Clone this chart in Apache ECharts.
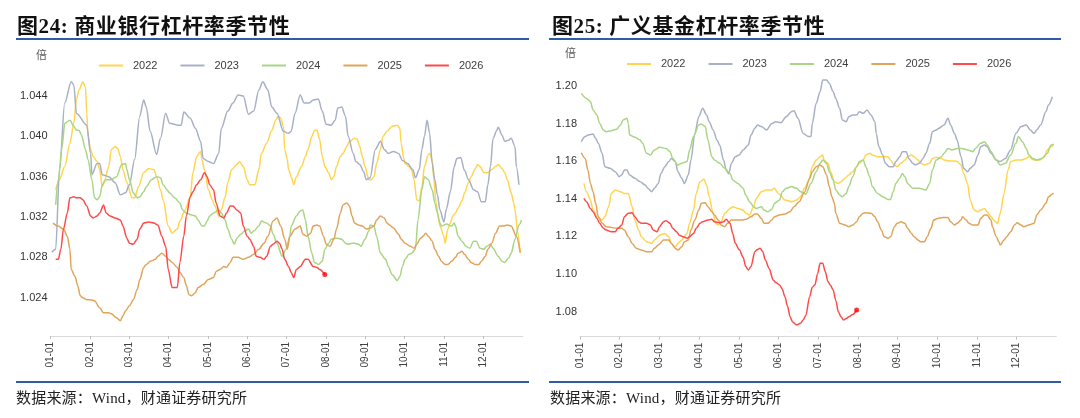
<!DOCTYPE html>
<html>
<head>
<meta charset="utf-8">
<title>杠杆率季节性</title>
<script src="https://cdn.jsdelivr.net/npm/echarts@6/dist/echarts.min.js"></script>
<style>
  body { margin: 0; background: #fff; }
  #wrap { position: relative; width: 1080px; height: 418px; overflow: hidden; }
  #chart { position: absolute; left: 0; top: 0; width: 1080px; height: 418px; }
  .title { position: absolute; top: 15.5px; font: bold 21px 'Liberation Serif', 'Noto Sans CJK SC'; line-height: 21px; letter-spacing: 0.6px; color: #111; white-space: nowrap; }
  .source { position: absolute; top: 390px; font: 15px 'Liberation Serif', 'Noto Sans CJK SC'; line-height: 16px; letter-spacing: 0.2px; color: #222; white-space: nowrap; }
  .rule { position: absolute; background: #2f5ca5; }
</style>
</head>
<body>
<div id="wrap">
  <div id="chart"></div>
  <div class="title" style="left:17px">图24: 商业银行杠杆率季节性</div>
  <div class="title" style="left:552px">图25: 广义基金杠杆率季节性</div>
  <div class="rule" style="left:16px;top:38px;width:513px;height:1.5px"></div>
  <div class="rule" style="left:549px;top:38px;width:512px;height:1.5px"></div>
  <div class="rule" style="left:16px;top:380.5px;width:513px;height:2px"></div>
  <div class="rule" style="left:549px;top:380.5px;width:512px;height:2px"></div>
  <div class="source" style="left:16px">数据来源：Wind，财通证券研究所</div>
  <div class="source" style="left:550px">数据来源：Wind，财通证券研究所</div>
</div>
<script>
// 横轴：一年按天计（0~365），月初刻度
var monthLabels = ['01-01', '02-01', '03-01', '04-01', '05-01', '06-01', '07-01', '08-01', '09-01', '10-01', '11-01', '12-01'];
var years = ['2022', '2023', '2024', '2025', '2026'];
var bankTicks = [1.024, 1.028, 1.032, 1.036, 1.040, 1.044];
var fundTicks = [1.08, 1.10, 1.12, 1.14, 1.16, 1.18, 1.20];

// 图24 商业银行杠杆率（倍），[天, 值]
var bank2022 = [[4,1.0347],[7,1.0357],[11,1.037],[15,1.0393],[18,1.0413],[20,1.0436],[22,1.0446],[25,1.0454],[27,1.0449],[28,1.0423],[29,1.04],[31,1.0387],[33,1.038],[36,1.0375],[38,1.0367],[40,1.035],[42,1.0357],[45,1.037],[47,1.0387],[50,1.039],[52,1.0388],[54,1.038],[56,1.0367],[59,1.0354],[63,1.0339],[65,1.0339],[68,1.035],[72,1.0364],[76,1.0368],[80,1.0367],[82,1.036],[85,1.0347],[87,1.0337],[91,1.0311],[94,1.0304],[98,1.0308],[100,1.0316],[104,1.0327],[108,1.034],[110,1.0364],[113,1.038],[116,1.0385],[117,1.0377],[119,1.0367],[122,1.0347],[125,1.0337],[127,1.0331],[130,1.0321],[132,1.0327],[135,1.034],[137,1.0354],[140,1.0367],[144,1.0372],[146,1.0375],[149,1.037],[152,1.0357],[154,1.0352],[158,1.0352],[161,1.0367],[163,1.0383],[167,1.0393],[171,1.0406],[174,1.0416],[176,1.042],[178,1.0418],[180,1.041],[181,1.0387],[183,1.0377],[184,1.0367],[186,1.036],[188,1.0352],[190,1.036],[194,1.037],[197,1.038],[199,1.0387],[202,1.04],[204,1.0406],[206,1.0406],[208,1.0397],[210,1.038],[212,1.037],[215,1.0364],[217,1.0357],[219,1.036],[221,1.037],[224,1.038],[226,1.0383],[229,1.039],[231,1.0395],[235,1.0398],[237,1.0397],[239,1.039],[241,1.038],[243,1.037],[246,1.0357],[248,1.0357],[250,1.036],[252,1.0373],[255,1.0387],[257,1.04],[260,1.0405],[264,1.041],[268,1.0411],[270,1.0408],[271,1.0393],[273,1.0378],[274,1.0373],[277,1.037],[279,1.0367],[281,1.0357],[283,1.0337],[285,1.0336],[287,1.035],[289,1.037],[292,1.0382],[293,1.0383],[295,1.0377],[296,1.036],[298,1.0334],[300,1.0317],[301,1.0311],[304,1.0301],[305,1.0294],[307,1.0308],[309,1.0314],[311,1.0321],[313,1.0324],[315,1.0329],[318,1.0336],[320,1.0344],[323,1.0354],[325,1.036],[328,1.0367],[330,1.0372],[332,1.037],[335,1.0364],[338,1.0364],[341,1.0367],[344,1.037],[346,1.0372],[349,1.0368],[351,1.0364],[353,1.0357],[356,1.0344],[358,1.0334],[359,1.0327],[361,1.0305],[363,1.0284]];
var bank2023 = [[1,1.0285],[4,1.0288],[7,1.0367],[11,1.0433],[16,1.0454],[18,1.0451],[20,1.0423],[28,1.0411],[31,1.0383],[32,1.0362],[36,1.0373],[38,1.0373],[40,1.0362],[45,1.036],[50,1.0354],[54,1.0342],[58,1.0344],[61,1.0352],[65,1.0377],[69,1.042],[72,1.0436],[74,1.0429],[77,1.0405],[82,1.0382],[85,1.0398],[89,1.0423],[92,1.0413],[99,1.0411],[101,1.0411],[103,1.0424],[108,1.0418],[112,1.0408],[116,1.0395],[118,1.0378],[122,1.0375],[126,1.0373],[130,1.0383],[132,1.0408],[137,1.0425],[141,1.0433],[145,1.0441],[149,1.044],[153,1.0422],[157,1.0425],[161,1.0446],[164,1.0454],[168,1.0446],[171,1.0429],[175,1.0423],[180,1.0405],[184,1.0403],[186,1.0405],[189,1.0423],[193,1.0441],[196,1.0433],[200,1.0433],[203,1.0436],[207,1.0437],[210,1.0425],[213,1.0412],[217,1.0411],[220,1.0416],[222,1.0428],[225,1.0429],[228,1.042],[230,1.04],[234,1.0383],[236,1.0375],[239,1.0372],[242,1.0365],[244,1.0357],[247,1.0359],[251,1.0387],[255,1.0395],[258,1.0387],[261,1.0383],[265,1.0385],[269,1.0383],[272,1.0376],[276,1.0373],[280,1.0367],[282,1.0359],[285,1.0367],[287,1.0387],[289,1.04],[291,1.0416],[293,1.0403],[295,1.0373],[297,1.0357],[299,1.0342],[301,1.0327],[304,1.0315],[306,1.0328],[309,1.0345],[312,1.037],[314,1.0378],[317,1.0379],[320,1.0366],[323,1.0357],[327,1.0347],[330,1.0345],[333,1.0335],[336,1.0335],[338,1.0352],[340,1.037],[342,1.0398],[345,1.0406],[346,1.0409],[349,1.0401],[351,1.0395],[354,1.0396],[356,1.0398],[359,1.039],[360,1.037],[362,1.0352]];
var bank2024 = [[4,1.0332],[6,1.0357],[9,1.039],[11,1.0413],[15,1.0416],[18,1.041],[20,1.0406],[22,1.0406],[24,1.0401],[27,1.0387],[29,1.0377],[32,1.0357],[34,1.0339],[36,1.0337],[38,1.034],[40,1.0352],[43,1.0357],[47,1.0357],[51,1.036],[55,1.0372],[58,1.0373],[59,1.0367],[61,1.0357],[64,1.0344],[67,1.0339],[69,1.034],[72,1.0345],[74,1.035],[78,1.0357],[82,1.036],[85,1.0359],[87,1.0352],[90,1.0347],[92,1.0344],[96,1.0339],[100,1.0334],[102,1.0327],[105,1.0324],[109,1.0322],[112,1.0321],[114,1.0317],[117,1.0311],[119,1.0311],[121,1.0316],[123,1.0321],[126,1.0324],[130,1.0327],[132,1.0324],[135,1.0317],[137,1.0308],[140,1.0298],[142,1.0293],[144,1.0299],[147,1.0303],[150,1.0306],[153,1.0308],[155,1.0304],[157,1.0306],[161,1.0311],[163,1.0316],[167,1.0314],[170,1.0311],[172,1.0303],[175,1.0294],[179,1.0281],[182,1.0288],[185,1.0301],[186,1.0311],[190,1.0321],[193,1.0326],[195,1.0327],[197,1.0317],[199,1.0301],[202,1.0284],[204,1.0275],[207,1.0273],[210,1.0276],[212,1.0288],[215,1.0294],[217,1.0298],[220,1.0299],[222,1.0299],[225,1.0298],[228,1.0294],[230,1.0293],[233,1.0294],[235,1.0294],[238,1.0293],[240,1.0291],[243,1.0298],[246,1.0306],[247,1.0312],[250,1.0311],[252,1.0301],[255,1.0284],[259,1.0278],[261,1.0271],[264,1.0263],[268,1.0257],[270,1.0261],[272,1.0271],[274,1.0278],[277,1.0283],[279,1.0284],[282,1.0288],[284,1.0317],[287,1.0347],[289,1.036],[292,1.0357],[295,1.0347],[297,1.0334],[299,1.0324],[301,1.0314],[302,1.0311],[306,1.0313],[310,1.0311],[312,1.0314],[313,1.0311],[315,1.0301],[318,1.0296],[321,1.0291],[324,1.0289],[327,1.0296],[329,1.0296],[332,1.0289],[335,1.0288],[337,1.0291],[340,1.0293],[342,1.0289],[346,1.0281],[349,1.0276],[351,1.0275],[354,1.0279],[356,1.0284],[359,1.0298],[362,1.0312],[364,1.0317]];
var bank2025 = [[2,1.0314],[6,1.0311],[10,1.0308],[13,1.0301],[15,1.0288],[16,1.0268],[19,1.0261],[21,1.0252],[23,1.0242],[25,1.024],[28,1.0238],[31,1.0238],[34,1.0237],[38,1.023],[41,1.0225],[45,1.0225],[47,1.0224],[51,1.022],[54,1.0217],[56,1.0222],[58,1.0227],[61,1.0232],[64,1.0238],[67,1.0248],[69,1.0258],[72,1.027],[74,1.0273],[77,1.0276],[81,1.0278],[83,1.0281],[86,1.0284],[89,1.0281],[91,1.0278],[94,1.0275],[98,1.027],[100,1.0265],[103,1.026],[105,1.0252],[107,1.0243],[109,1.0242],[112,1.0245],[114,1.025],[118,1.0253],[122,1.0258],[126,1.026],[128,1.0266],[131,1.0268],[134,1.0271],[136,1.027],[139,1.0275],[141,1.028],[145,1.028],[149,1.0278],[153,1.028],[157,1.0283],[161,1.0288],[165,1.0294],[168,1.0301],[172,1.0316],[175,1.0319],[178,1.0311],[181,1.0298],[183,1.0288],[185,1.0301],[189,1.0308],[193,1.0311],[195,1.0303],[198,1.0301],[201,1.0304],[203,1.0311],[206,1.0312],[208,1.0311],[211,1.0301],[213,1.0293],[216,1.0291],[219,1.0298],[221,1.0308],[224,1.0324],[226,1.0332],[229,1.0334],[231,1.0331],[233,1.0321],[235,1.0314],[238,1.0312],[241,1.0311],[244,1.0308],[247,1.0309],[250,1.0311],[252,1.0317],[255,1.0321],[258,1.0319],[260,1.0314],[262,1.0312],[265,1.0309],[269,1.0303],[271,1.0298],[274,1.0294],[278,1.0291],[281,1.0289],[283,1.0293],[286,1.0299],[288,1.0301],[290,1.0304],[292,1.0301],[295,1.0296],[297,1.0288],[300,1.0281],[302,1.0276],[305,1.0273],[307,1.0273],[310,1.0276],[313,1.028],[315,1.0284],[318,1.0286],[320,1.0283],[323,1.0278],[325,1.0275],[328,1.0273],[331,1.0273],[333,1.0276],[336,1.0281],[338,1.0288],[341,1.0294],[344,1.0304],[347,1.0311],[350,1.0311],[353,1.0312],[356,1.0311],[360,1.0301],[363,1.0285]];
var bank2026 = [[4,1.0278],[6,1.0278],[8,1.0288],[10,1.0308],[13,1.0324],[15,1.0339],[18,1.034],[20,1.0339],[23,1.0339],[25,1.0337],[28,1.0331],[31,1.0321],[33,1.0319],[36,1.0321],[38,1.0324],[41,1.0332],[43,1.0324],[46,1.0321],[50,1.0319],[54,1.0317],[56,1.0311],[59,1.0299],[61,1.0294],[64,1.0293],[67,1.0298],[69,1.0308],[72,1.0314],[76,1.0315],[80,1.0314],[83,1.0312],[86,1.0301],[89,1.0291],[91,1.0268],[94,1.025],[98,1.025],[100,1.0275],[103,1.0301],[105,1.0321],[108,1.034],[110,1.0345],[113,1.0352],[116,1.0357],[119,1.0364],[121,1.036],[123,1.0352],[126,1.0347],[128,1.0334],[131,1.0321],[134,1.0319],[136,1.0324],[139,1.0331],[141,1.0331],[144,1.0327],[147,1.0324],[149,1.0311],[152,1.0301],[154,1.0298],[157,1.0291],[159,1.0281],[162,1.028],[165,1.0278],[167,1.0281],[170,1.0291],[172,1.0293],[175,1.0296],[177,1.0294],[179,1.0288],[181,1.0278],[184,1.0271],[186,1.0265],[188,1.026],[190,1.0268],[193,1.0271],[197,1.0278],[199,1.0278],[203,1.0271],[206,1.027],[208,1.0268],[212,1.0263]];

// 图25 广义基金杠杆率（倍），[天, 值]
var fund2022 = [[3,1.1482],[5,1.1438],[8,1.1394],[10,1.134],[13,1.1305],[17,1.1287],[19,1.1305],[22,1.1358],[24,1.1429],[27,1.1447],[31,1.1438],[34,1.1429],[37,1.1429],[40,1.1358],[42,1.1287],[45,1.1234],[47,1.1199],[51,1.1172],[55,1.1163],[57,1.1181],[61,1.1207],[65,1.1216],[68,1.1199],[70,1.1163],[73,1.1145],[75,1.1163],[78,1.1181],[82,1.1216],[84,1.127],[87,1.134],[89,1.1429],[92,1.1491],[95,1.1504],[97,1.1473],[99,1.1411],[102,1.1323],[104,1.127],[106,1.1261],[108,1.1278],[111,1.1323],[115,1.1349],[117,1.1358],[121,1.1349],[125,1.134],[127,1.1323],[130,1.1314],[133,1.1358],[135,1.1402],[139,1.1438],[143,1.1447],[147,1.1447],[149,1.1456],[152,1.1429],[157,1.1394],[162,1.1385],[166,1.1394],[169,1.1411],[172,1.1456],[175,1.1491],[178,1.1571],[181,1.1606],[184,1.1624],[186,1.1633],[187,1.1606],[190,1.1589],[192,1.1544],[195,1.1491],[198,1.1482],[200,1.1491],[203,1.1509],[206,1.1527],[209,1.1544],[212,1.1571],[214,1.1589],[217,1.1606],[219,1.1633],[222,1.1642],[224,1.1633],[228,1.1624],[232,1.1624],[236,1.1624],[238,1.1606],[241,1.158],[243,1.1571],[246,1.1589],[249,1.1606],[251,1.1624],[254,1.1633],[256,1.1624],[259,1.1606],[261,1.1589],[264,1.158],[268,1.1589],[270,1.1615],[273,1.1621],[277,1.1615],[279,1.1606],[283,1.1601],[287,1.1601],[289,1.1598],[292,1.158],[294,1.1535],[297,1.1482],[299,1.1394],[302,1.134],[305,1.1332],[307,1.134],[310,1.1349],[312,1.1332],[315,1.1305],[317,1.1287],[320,1.127],[322,1.1323],[325,1.1429],[328,1.1553],[330,1.1598],[334,1.1606],[338,1.1606],[342,1.1615],[344,1.1624],[348,1.1606],[352,1.1606],[356,1.1624],[358,1.166],[361,1.1677],[363,1.1686]];
var fund2023 = [[1,1.1704],[4,1.1731],[6,1.1739],[10,1.1745],[12,1.1722],[14,1.1695],[17,1.1642],[19,1.1571],[23,1.1562],[27,1.1544],[30,1.1518],[32,1.1527],[34,1.1553],[36,1.1553],[38,1.1527],[42,1.1509],[46,1.1491],[50,1.1473],[52,1.1456],[55,1.1438],[57,1.1456],[60,1.1482],[62,1.1535],[65,1.1571],[68,1.1598],[70,1.1615],[73,1.1598],[75,1.1544],[78,1.1509],[80,1.1482],[83,1.1527],[85,1.1606],[88,1.1748],[91,1.1837],[94,1.1881],[97,1.1846],[99,1.181],[102,1.1766],[105,1.1713],[107,1.1686],[110,1.1606],[112,1.1553],[114,1.1532],[116,1.1589],[119,1.1624],[122,1.1633],[125,1.166],[129,1.1686],[131,1.1739],[134,1.1775],[136,1.1793],[139,1.1784],[143,1.1766],[147,1.1801],[150,1.181],[154,1.1805],[158,1.1837],[162,1.1863],[164,1.1869],[167,1.1828],[171,1.1748],[175,1.1731],[177,1.1731],[178,1.1801],[181,1.1908],[184,1.197],[186,1.2032],[189,1.2032],[191,1.2014],[194,1.197],[196,1.1934],[199,1.1881],[201,1.1819],[204,1.181],[206,1.1837],[209,1.1846],[212,1.1846],[214,1.1863],[217,1.1855],[220,1.1872],[223,1.1846],[226,1.181],[227,1.1748],[229,1.1677],[232,1.1633],[234,1.1589],[237,1.1571],[240,1.1571],[242,1.1598],[245,1.1624],[247,1.1651],[250,1.1651],[252,1.1615],[255,1.1589],[257,1.158],[260,1.1589],[263,1.1615],[265,1.1642],[268,1.1695],[270,1.1757],[273,1.1766],[275,1.1775],[279,1.1793],[282,1.1828],[284,1.1793],[287,1.1748],[289,1.1713],[292,1.1624],[294,1.1562],[297,1.1544],[299,1.1562],[302,1.158],[305,1.1633],[307,1.1677],[310,1.1686],[312,1.1677],[315,1.1642],[319,1.1606],[322,1.1598],[326,1.1615],[330,1.166],[334,1.1748],[338,1.1784],[342,1.1793],[345,1.1766],[348,1.1748],[350,1.1766],[353,1.1793],[357,1.1863],[359,1.1899],[362,1.1943]];
var fund2024 = [[1,1.1961],[5,1.1934],[8,1.1917],[10,1.1872],[13,1.1846],[15,1.1801],[18,1.1766],[20,1.1757],[24,1.1762],[28,1.177],[31,1.1793],[33,1.1819],[36,1.1828],[37,1.1801],[38,1.1739],[42,1.1727],[46,1.1713],[48,1.1695],[51,1.1642],[54,1.1633],[57,1.166],[61,1.1674],[66,1.1668],[69,1.1651],[71,1.1615],[75,1.158],[78,1.1589],[82,1.1598],[84,1.166],[87,1.1731],[91,1.1793],[93,1.1798],[96,1.1784],[98,1.1713],[101,1.1624],[103,1.1606],[107,1.1589],[111,1.1562],[115,1.1535],[117,1.15],[121,1.1482],[125,1.1456],[127,1.142],[130,1.1385],[133,1.1358],[135,1.1349],[139,1.1358],[141,1.134],[144,1.1332],[147,1.1344],[149,1.1376],[153,1.1394],[155,1.1438],[158,1.1456],[162,1.1465],[166,1.1456],[169,1.1438],[173,1.1425],[177,1.1482],[181,1.1544],[184,1.1589],[186,1.1606],[189,1.1589],[191,1.1544],[194,1.15],[196,1.1447],[199,1.142],[201,1.1411],[204,1.1429],[206,1.1465],[209,1.1518],[212,1.1571],[214,1.1598],[217,1.1606],[219,1.1571],[222,1.1518],[224,1.1465],[228,1.1429],[232,1.1411],[236,1.1397],[238,1.1397],[240,1.1438],[242,1.1482],[245,1.1509],[247,1.1535],[249,1.1518],[251,1.1482],[255,1.1456],[260,1.1456],[265,1.1447],[268,1.1482],[270,1.1553],[273,1.1606],[277,1.1624],[279,1.1642],[282,1.1668],[285,1.166],[289,1.1668],[293,1.1668],[297,1.166],[301,1.1651],[303,1.1668],[307,1.1695],[310,1.1704],[312,1.1686],[315,1.1651],[319,1.1606],[322,1.158],[326,1.1589],[330,1.1633],[334,1.1695],[336,1.1731],[339,1.1704],[342,1.1668],[344,1.1633],[347,1.1615],[350,1.1606],[354,1.1615],[358,1.1642],[361,1.1686],[363,1.1691]];
var fund2025 = [[1,1.1645],[4,1.1615],[6,1.1553],[8,1.1482],[10,1.1438],[12,1.1376],[14,1.1305],[17,1.127],[20,1.1252],[24,1.1248],[28,1.1243],[32,1.1243],[34,1.1234],[37,1.1199],[40,1.1163],[43,1.1137],[47,1.1128],[51,1.1119],[55,1.1119],[57,1.1137],[60,1.1154],[64,1.1181],[68,1.1181],[70,1.1163],[73,1.1137],[75,1.1128],[78,1.1145],[80,1.1172],[83,1.1181],[85,1.1234],[88,1.1287],[91,1.134],[93,1.1376],[96,1.1379],[98,1.1358],[101,1.1332],[103,1.1314],[106,1.1287],[108,1.1261],[111,1.1252],[113,1.127],[116,1.1287],[120,1.1287],[124,1.1287],[127,1.1291],[131,1.1305],[134,1.1319],[136,1.1319],[139,1.1296],[141,1.127],[144,1.127],[147,1.1287],[149,1.1305],[153,1.1314],[157,1.1319],[161,1.1332],[164,1.1358],[168,1.1385],[172,1.1435],[176,1.1509],[178,1.1544],[181,1.1571],[184,1.158],[186,1.1571],[189,1.1527],[191,1.1465],[193,1.1411],[195,1.1376],[196,1.1323],[199,1.127],[203,1.1261],[206,1.1252],[209,1.1261],[212,1.1278],[214,1.1305],[217,1.1323],[219,1.1326],[223,1.1323],[226,1.1305],[228,1.1278],[231,1.1234],[233,1.1199],[236,1.119],[238,1.1199],[241,1.1252],[243,1.127],[246,1.1278],[249,1.127],[251,1.1243],[254,1.1216],[256,1.1199],[259,1.1181],[261,1.1172],[264,1.1172],[266,1.1199],[269,1.1243],[271,1.1287],[274,1.1296],[278,1.1301],[282,1.1301],[284,1.1278],[287,1.1261],[289,1.127],[292,1.1287],[293,1.1305],[296,1.1287],[298,1.127],[301,1.1261],[305,1.1261],[307,1.1296],[310,1.1314],[312,1.1314],[315,1.1287],[316,1.1252],[319,1.1199],[321,1.1172],[322,1.1154],[325,1.1181],[327,1.1199],[330,1.1225],[333,1.1261],[335,1.1273],[338,1.1261],[340,1.1252],[344,1.1261],[348,1.127],[350,1.1314],[353,1.134],[357,1.1376],[359,1.1411],[362,1.1426],[363,1.1429]];
var fund2026 = [[3,1.1402],[5,1.1385],[8,1.1349],[10,1.1332],[13,1.1296],[15,1.127],[18,1.1243],[20,1.1234],[24,1.1225],[27,1.1225],[29,1.1243],[32,1.1261],[34,1.1305],[37,1.1323],[40,1.1326],[42,1.1305],[45,1.1278],[47,1.127],[51,1.127],[54,1.1261],[56,1.1234],[59,1.1225],[61,1.1252],[64,1.1278],[66,1.1284],[69,1.127],[71,1.1243],[74,1.1225],[76,1.1207],[79,1.1199],[82,1.119],[84,1.1199],[87,1.1216],[89,1.1243],[92,1.127],[94,1.1278],[98,1.1287],[101,1.1291],[103,1.1278],[107,1.1273],[110,1.1278],[112,1.1291],[115,1.127],[117,1.1216],[119,1.1164],[122,1.113],[125,1.109],[127,1.104],[129,1.1022],[131,1.104],[134,1.1119],[136,1.1131],[138,1.1137],[140,1.112],[142,1.1075],[145,1.103],[148,1.0968],[150,1.0955],[153,1.0942],[155,1.092],[157,1.088],[159,1.083],[161,1.0773],[163,1.0745],[166,1.0729],[169,1.0738],[171,1.0756],[173,1.078],[176,1.088],[178,1.093],[180,1.0942],[182,1.1],[184,1.1057],[186,1.1057],[188,1.1012],[190,1.096],[192,1.094],[194,1.0915],[196,1.086],[198,1.08],[200,1.0773],[202,1.0756],[204,1.0764],[206,1.0773],[209,1.0785],[212,1.0809]];

var colors = ['#ffd54f', '#a7b0c4', '#a9d585', '#e0a45a', '#ff4a4a'];
var monthTicks = monthLabels.map(function (m, i) { return i * 365 / 12; });

var chart = echarts.init(document.getElementById('chart'));

function xAxisOf(gridIndex) {
  return {
    type: 'value', gridIndex: gridIndex, min: 0, max: 365,
    axisLine: { show: true, lineStyle: { color: '#d9d9d9', width: 1 } },
    axisTick: { show: true, customValues: monthTicks, length: 3, lineStyle: { color: '#bfbfbf' } },
    axisLabel: {
      customValues: monthTicks, rotate: 90, margin: 6,
      fontSize: 10, color: '#404040', fontFamily: 'Liberation Sans',
      formatter: function (v) { return monthLabels[Math.round(v * 12 / 365)]; }
    },
    splitLine: { show: false }
  };
}

function yAxisOf(gridIndex, min, max, ticks, digits) {
  return {
    type: 'value', gridIndex: gridIndex, min: min, max: max,
    axisLine: { show: false }, axisTick: { show: false }, splitLine: { show: false },
    axisLabel: {
      customValues: ticks, margin: 3,
      fontSize: 11, color: '#333', fontFamily: 'Liberation Sans',
      formatter: function (v) { return v.toFixed(digits); }
    }
  };
}

function legendOf(left, top) {
  return {
    left: left, top: top, data: years, icon: 'rect',
    itemWidth: 24, itemHeight: 2, itemGap: 23,
    textStyle: { fontSize: 11, color: '#404040', fontFamily: 'Liberation Sans', padding: [0, 0, 0, 5] }
  };
}

var bankData = [bank2022, bank2023, bank2024, bank2025, bank2026];
var fundData = [fund2022, fund2023, fund2024, fund2025, fund2026];

var series = [];
[bankData, fundData].forEach(function (group, g) {
  group.forEach(function (d, i) {
    series.push({
      name: years[i], type: 'line', xAxisIndex: g, yAxisIndex: g,
      data: d, symbol: 'none', smooth: 0.3, smoothMonotone: 'x',
      lineStyle: { width: 1.5, color: colors[i] }, itemStyle: { color: colors[i] },
      z: 2 + i
    });
  });
  // 2026 最新值端点
  var last = group[4][group[4].length - 1];
  series.push({
    name: 'latest', type: 'scatter', xAxisIndex: g, yAxisIndex: g,
    data: [last], symbolSize: 5, itemStyle: { color: '#ff0000' }, z: 10, silent: true
  });
});

chart.setOption({
  animation: false,
  color: colors,
  grid: [
    { left: 50.5, top: 73.8, width: 472.3, height: 262.2 },
    { left: 580, top: 70, width: 476.3, height: 266.7 }
  ],
  xAxis: [xAxisOf(0), xAxisOf(1)],
  yAxis: [
    yAxisOf(0, 1.0202, 1.0462, bankTicks, 3),
    yAxisOf(1, 1.0667, 1.2085, fundTicks, 2)
  ],
  legend: [legendOf(94, 55), legendOf(622, 53.5)],
  graphic: [
    { type: 'text', left: 36, top: 49, style: { text: '倍', font: '11px "Noto Sans CJK SC"', fill: '#595959' } },
    { type: 'text', left: 565, top: 47, style: { text: '倍', font: '11px "Noto Sans CJK SC"', fill: '#595959' } }
  ],
  series: series
});
</script>
</body>
</html>
